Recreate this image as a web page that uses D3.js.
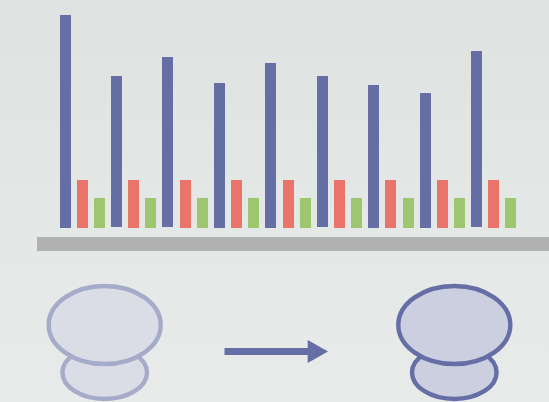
<!DOCTYPE html>
<html><head><meta charset="utf-8">
<script src="https://cdn.jsdelivr.net/npm/d3@7/dist/d3.min.js"></script>
<style>html,body{margin:0;padding:0;overflow:hidden;background:#e5e8e8}svg{display:block}</style>
</head><body><div id="c"></div>
<script>
const groups = [1,2,3,4,5,6,7,8,9];
const blueValues = [213,152,171,145,165,152,143,135,177];
const blueBases  = [0,1,1,0,0,1,0,0,1];
const redValues = [48,48,48,48,48,48,48,48,48];
const greenValues = [30,30,30,30,30,30,30,30,30];
const W=549,H=402;
const svg=d3.select("#c").append("svg").attr("width",W).attr("height",H);
const defs=svg.append("defs");
const g=defs.append("linearGradient").attr("id","bg").attr("x1",0).attr("y1",0).attr("x2",0).attr("y2",1);
g.append("stop").attr("offset",0).attr("stop-color","#dee3e2");
g.append("stop").attr("offset",1).attr("stop-color","#e8ebea");
svg.append("rect").attr("width",W).attr("height",H).attr("fill","url(#bg)");
const x=d3.scaleLinear().domain([1,9]).range([60,471.6]);
const y=d3.scaleLinear().domain([0,228]).range([228,0]);
const bw=11;
const series=[
 {v:blueValues,b:blueBases,o:0,c:"#656ea5"},
 {v:redValues,o:17.2,c:"#ea7469"},
 {v:greenValues,o:34.3,c:"#9cc76f"}];
series.forEach(s=>{
 svg.append("g").selectAll("rect").data(groups).join("rect")
  .attr("x",d=>Math.floor(x(d)+s.o)).attr("width",bw)
  .attr("y",(d,i)=>y(s.v[i]))
  .attr("height",(d,i)=>y(s.b?s.b[i]:0)-y(s.v[i]))
  .attr("fill",s.c);
});
svg.append("rect").attr("x",37).attr("y",237).attr("width",512).attr("height",14).attr("fill","#b1b1b1");
function bulb(cx,fill,stroke){
 const gg=svg.append("g");
 gg.append("ellipse").attr("cx",cx).attr("cy",372.5).attr("rx",42.3).attr("ry",26.5).attr("fill",fill).attr("stroke",stroke).attr("stroke-width",4.4);
 gg.append("ellipse").attr("cx",cx).attr("cy",325).attr("rx",56).attr("ry",39).attr("fill",fill).attr("stroke",stroke).attr("stroke-width",4.4);
}
bulb(104.7,"#dadde6","#a6abc9");
bulb(454.3,"#cccfe0","#656ea5");
svg.append("rect").attr("x",224.5).attr("y",348).attr("width",84).attr("height",7).attr("fill","#656ea5");
svg.append("path").attr("d",d3.line()([[307.7,340],[328,351.5],[307.7,363]])).attr("fill","#656ea5");
</script></body></html>
